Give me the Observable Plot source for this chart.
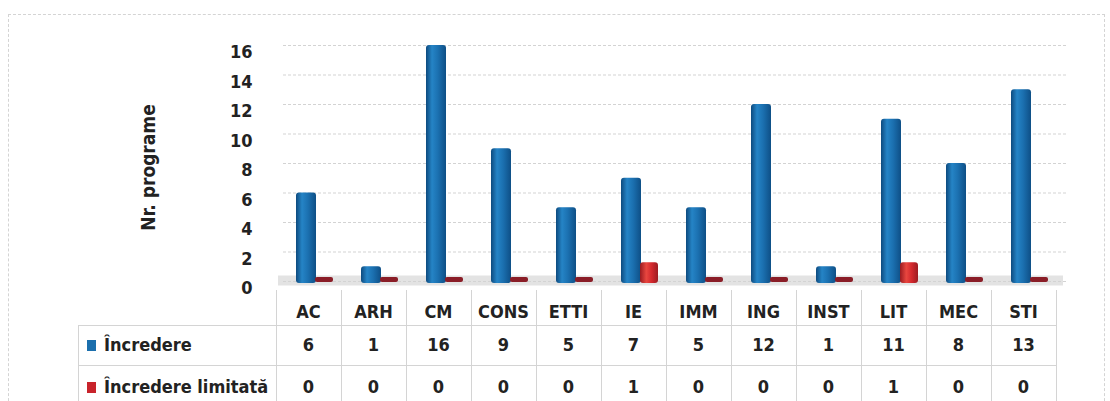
<!DOCTYPE html>
<html><head><meta charset="utf-8">
<script src="https://cdn.jsdelivr.net/npm/d3@7"></script>
<script src="https://cdn.jsdelivr.net/npm/@observablehq/plot@0.6"></script>
<style>
body{margin:0;background:#fff;}
#wrap{position:relative;width:1110px;height:401px;overflow:hidden;font-family:"DejaVu Sans Condensed","DejaVu Sans",sans-serif;font-weight:bold;color:#222;}
#frame{position:absolute;left:8px;top:14px;width:1095px;height:420px;border:1px dashed #d4d4d4;}
#chart{position:absolute;left:0;top:0;}
.cell{position:absolute;text-align:center;font-size:18px;line-height:18px;height:18px;white-space:nowrap;}
.vl{position:absolute;width:0;border-left:1px solid #d4d4d4;}
.hl{position:absolute;height:0;border-top:1px solid #d4d4d4;}
.sw{position:absolute;width:9px;height:11px;}
</style></head><body>
<div id="wrap"><div id="frame"></div><div id="chart"></div></div>
<script>
const categories = ["AC","ARH","CM","CONS","ETTI","IE","IMM","ING","INST","LIT","MEC","STI"];
const incredere = [6,1,16,9,5,7,5,12,1,11,8,13];
const incredereLimitata = [0,0,0,0,0,1,0,0,0,1,0,0];
const seriesNames = ["Încredere","Încredere limitată"];
const yTicks = [0,2,4,6,8,10,12,14,16];
const yTitle = "Nr. programe";

const blueData = categories.map((c,i)=>({cat:c, value:incredere[i]}));
const redData = categories.map((c,i)=>({cat:c, value:incredereLimitata[i]}));

const W = 1110, H = 300;
const chart = Plot.plot({
  width: W, height: H,
  marginLeft: 273, marginRight: 52, marginTop: 45, marginBottom: 19,
  style: {fontFamily: '"DejaVu Sans Condensed","DejaVu Sans",sans-serif', fontWeight: "bold", fontSize: "18px", color: "#222", background: "transparent"},
  x: {type: "band", domain: categories, padding: 0, axis: null},
  y: {domain: [0,16], axis: null},
  marks: [
    Plot.ruleY([0], {stroke: "#e3e3e3", strokeWidth: 10, dy: -1, dx: 5}),
    Plot.gridY(yTicks, {stroke: "#d3d3d3", strokeOpacity: 1, strokeDasharray: "3,2", dx: 10}),
    Plot.axisY(yTicks, {tickSize: 0, tickPadding: 21, dy: 7, fontSize: 18, fontWeight: "bold", fill: "#222", label: null}),
    Plot.text([yTitle], {frameAnchor: "left", textAnchor: "middle", dx: -125, dy: 4, rotate: -90, fontSize: 19, fontWeight: "bold", fill: "#222"}),
    Plot.barY(blueData, {x: "cat", y: "value", fill: "url(#gBlue)", insetLeft: 20, insetRight: 25, insetBottom: -2, rx: 3}),
    Plot.barY(redData, {filter: d => d.value > 0, x: "cat", y: "value", fill: "url(#gRed)", insetLeft: 39, insetRight: 8, insetTop: -4, insetBottom: -2, rx: 3}),
    Plot.barY(redData, {filter: d => d.value === 0, x: "cat", y: "value", fill: "#8a1d27", insetLeft: 39, insetRight: 8, insetTop: -4, insetBottom: -1, rx: 2})
  ]
});
const svg = chart;
const defs = d3.select(svg).insert("defs", ":first-child");
function grad(id, stops){
  const g = defs.append("linearGradient").attr("id", id).attr("x1",0).attr("x2",1).attr("y1",0).attr("y2",0);
  stops.forEach(([o,c]) => g.append("stop").attr("offset", o).attr("stop-color", c));
}
grad("gBlue", [[0,"#0d4a7e"],[0.3,"#2584c6"],[0.6,"#1b70b0"],[1,"#0e4f86"]]);
grad("gRed", [[0,"#9a1a20"],[0.35,"#e8463f"],[0.65,"#d3282d"],[1,"#9c1c22"]]);
document.getElementById("chart").appendChild(svg);

// data table below the chart, aligned to the chart's x scale
const xs = chart.scale("x");
const bw = xs.bandwidth;
const wrap = document.getElementById("wrap");
function add(cls, css, text){
  const d = document.createElement("div");
  d.className = cls;
  Object.assign(d.style, css);
  if (text != null) d.textContent = text;
  wrap.appendChild(d);
  return d;
}
const right0 = xs.apply(categories[categories.length-1]) + bw;
const rowY = [312, 345, 387];
const lineTop = 290, lineBottom = 402;
const labelLeft = 78;
categories.forEach(c => add("vl", {left: xs.apply(c)+"px", top: lineTop+"px", height: (lineBottom-lineTop)+"px"}));
add("vl", {left: right0+"px", top: lineTop+"px", height: (lineBottom-lineTop)+"px"});
add("vl", {left: labelLeft+"px", top: "325px", height: (lineBottom-325)+"px"});
[325, 365].forEach(y => add("hl", {left: labelLeft+"px", top: y+"px", width: (right0-labelLeft)+"px"}));
categories.forEach(c => add("cell", {left: xs.apply(c)+"px", width: bw+"px", top: (rowY[0]-9)+"px"}, c));
const rows = [incredere, incredereLimitata];
const swColors = ["#1b6fad", "#c8232b"];
rows.forEach((vals, r) => {
  const y = rowY[r+1];
  add("sw", {left: "87px", top: (y-5)+"px", background: swColors[r]});
  add("cell", {left: "104px", top: (y-9)+"px", textAlign: "left"}, seriesNames[r]);
  categories.forEach((c,i) => add("cell", {left: xs.apply(c)+"px", width: bw+"px", top: (y-9)+"px"}, String(vals[i])));
});
</script>
</body></html>
